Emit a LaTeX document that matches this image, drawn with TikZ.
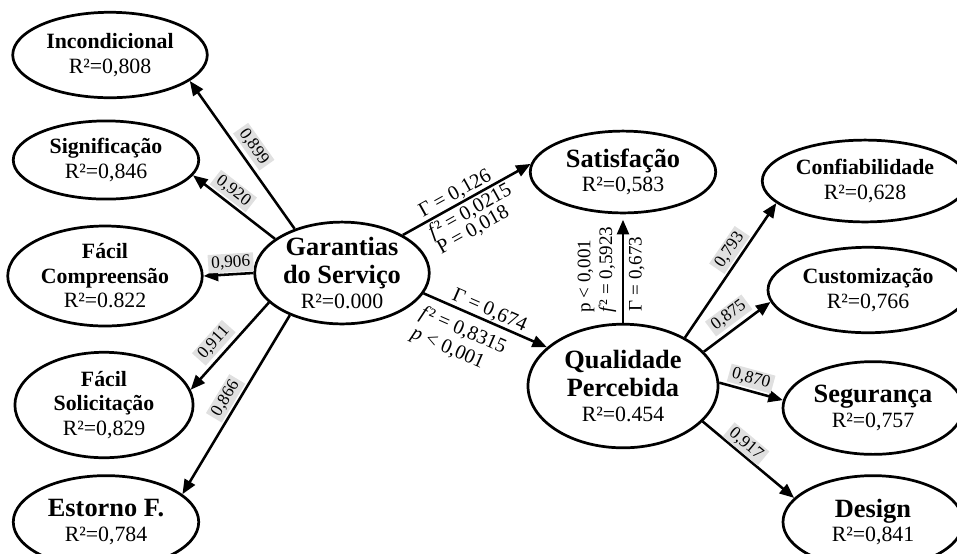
\documentclass[tikz,border=0pt]{standalone}
\usepackage{fontspec}
\setmainfont{Liberation Serif}
\usepackage{tikz}
\usetikzlibrary{arrows.meta, shapes.geometric}

\newcommand{\bigname}[1]{{\fontsize{14.5}{16}\selectfont\bfseries #1}}

\begin{document}
\begin{tikzpicture}[
      x=0.55pt, y=-0.55pt,
      latent/.style={ellipse, draw, line width=1.5pt, inner sep=-6pt, align=center,
        font=\fontsize{12}{13.5}\selectfont},
      arrow/.style={-{Triangle[length=8pt, width=6.5pt]}, line width=1.4pt},
      loading/.style={sloped, fill=black!12, inner xsep=1.8pt, inner ysep=1.2pt,
        font=\fontsize{9.5}{10}\selectfont},
      path_text/.style={sloped, inner sep=0.5pt, align=left, font=\fontsize{11.2}{11}\selectfont},
      vert_text/.style={sloped, inner sep=0.5pt, align=left, font=\fontsize{10.5}{12}\selectfont}
  ]
      \useasboundingbox (0,0) rectangle (957,553);

      % Garantias do Servico and its indicators (left)
      \node[latent, minimum width=96pt, minimum height=56pt] (garantias) at (342,273)
          {\bigname{Garantias}\\[2pt]\bigname{do Serviço}\\R²=0.000};
      \node[latent, minimum width=107pt, minimum height=47pt] (incond) at (110,55)
          {\textbf{Incondicional}\\R²=0,808};
      \node[latent, minimum width=102pt, minimum height=43pt] (signif) at (106,160)
          {\textbf{Significação}\\R²=0,846};
      \node[latent, minimum width=107pt, minimum height=55pt] (facilcomp) at (105,276)
          {\textbf{Fácil}\\\textbf{Compreensão}\\R²=0.822};
      \node[latent, minimum width=98pt, minimum height=58pt] (facilsol) at (104,405)
          {\textbf{Fácil}\\\textbf{Solicitação}\\R²=0,829};
      \node[latent, minimum width=102pt, minimum height=51pt] (estorno) at (106,522)
          {\bigname{Estorno F.}\\R²=0,784};

      \draw[arrow] (garantias.137) -- (incond.-18)
          node[loading, pos=0.5, above=2pt] {0,899};
      \draw[arrow] (garantias.153) -- (signif.-10)
          node[loading, pos=0.6, above=1pt] {0,920};
      \draw[arrow] (garantias.west) -- (facilcomp.east)
          node[loading, pos=0.44, above=0.5pt] {0,906};
      \draw[arrow] (garantias.202) -- (facilsol.10)
          node[loading, pos=0.57, above=2pt] {0,911};
      \draw[arrow] (garantias.219) -- (estorno.20)
          node[loading, pos=0.5, above=1pt] {0,866};

      % Satisfacao and Qualidade Percebida (middle)
      \node[latent, minimum width=102pt, minimum height=45pt] (satisf) at (623,172)
          {\bigname{Satisfação}\\R²=0,583};
      \node[latent, minimum width=104.5pt, minimum height=68pt] (qualid) at (623,386)
          {\bigname{Qualidade}\\[2pt]\bigname{Percebida}\\R²=0.454};

      \draw[arrow] (garantias.32) -- (satisf.175)
          node[path_text, pos=0.45, above=0pt] {Γ = 0,126}
          node[path_text, pos=0.48, below=0.5pt, font=\fontsize{11.2}{10}\selectfont]
              {\textit{f}² = 0,0215\\P = 0,018};
      \draw[arrow] (garantias.-14) -- (qualid.153)
          node[path_text, pos=0.5, above=0pt] {Γ = 0,674}
          node[path_text, pos=0.38, below=4pt, font=\fontsize{11.2}{12}\selectfont]
              {\textit{f}² = 0,8315\\\textit{p} < 0,001};
      \draw[arrow, shorten >=3pt] (qualid.north) -- (satisf.south)
          node[vert_text, pos=0.49, above=2.5pt] {p < 0,001\\\textit{f}² = 0,5923}
          node[vert_text, pos=0.45, below=2pt] {Γ = 0,673};

      % indicators of Qualidade Percebida (right)
      \node[latent, minimum width=113pt, minimum height=45pt] (confiab) at (865,181)
          {\textbf{Confiabilidade}\\R²=0,628};
      \node[latent, minimum width=110pt, minimum height=47pt] (custom) at (868,290)
          {\textbf{Customização}\\R²=0,766};
      \node[latent, minimum width=99pt, minimum height=51pt] (segur) at (873,408)
          {\bigname{Segurança}\\R²=0,757};
      \node[latent, minimum width=99pt, minimum height=51pt] (design) at (873,522)
          {\bigname{Design}\\R²=0,841};

      \draw[arrow] (qualid.38) -- (confiab.-166)
          node[loading, pos=0.6, above=1pt] {0,793};
      \draw[arrow] (qualid.23) -- (custom.187)
          node[loading, pos=0.5, above=2pt] {0,875};
      \draw[arrow] (qualid.2) -- (segur.175)
          node[loading, pos=0.45, above=1pt] {0,870};
      \draw[arrow] (qualid.-24) -- (design.163)
          node[loading, pos=0.4, above=0pt] {0,917};
  \end{tikzpicture}
\end{document}
